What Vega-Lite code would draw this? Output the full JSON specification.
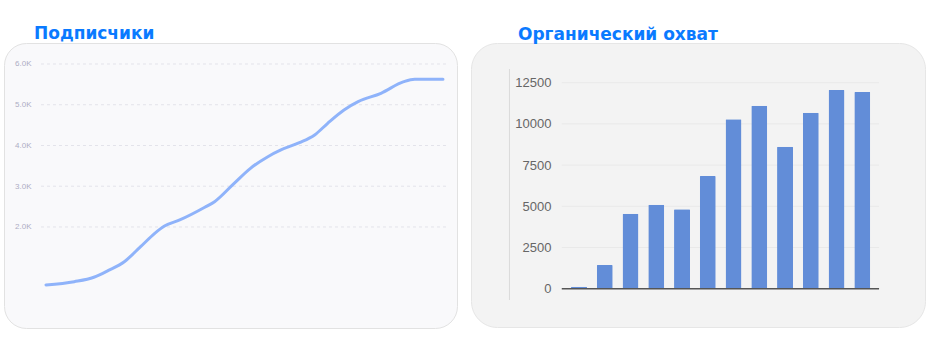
{
  "$schema": "https://vega.github.io/schema/vega-lite/v6.json",
  "background": "white",
  "padding": {"left": 3, "top": 24, "right": 0, "bottom": 0},
  "spacing": 12,
  "config": {"view": {"stroke": null}},
  "hconcat": [
    {
      "width": 453,
      "height": 285,
      "title": {"text": "Подписчики", "anchor": "start", "dx": 30, "offset": 0, "font": "DejaVu Sans", "fontSize": 17, "fontWeight": "bold", "color": "#0a7aff"},
      "view": {"fill": "#f9f9fb", "cornerRadius": 22, "stroke": "#e2e2e2"},
      "layer": [
        {
          "data": {"values": [{"v": 2000}, {"v": 3000}, {"v": 4000}, {"v": 5000}, {"v": 6000}]},
          "mark": {"type": "rule", "color": "#e3e3ea", "strokeDash": [3, 3], "strokeWidth": 1},
          "encoding": {
            "x": {"datum": -4.6, "type": "quantitative", "scale": {"domain": [-38.6, 377.9], "nice": false, "zero": false}, "axis": null},
            "x2": {"datum": 369.6},
            "y": {"field": "v", "type": "quantitative", "scale": {"domain": [-479, 6515], "nice": false, "zero": false},
              "axis": {"values": [2000, 3000, 4000, 5000, 6000], "labelExpr": "format(datum.value/1000,'.1f')+'K'", "grid": false, "domain": false, "ticks": false, "labelPadding": 0, "offset": -27, "labelFontSize": 8, "labelColor": "#adadc4", "labelFont": "Liberation Sans", "title": null}}
          }
        },
        {
          "data": {"values": [
            {"day": 0, "subs": 577}, {"day": 26, "subs": 658}, {"day": 44, "subs": 766}, {"day": 57, "subs": 928},
            {"day": 72, "subs": 1148}, {"day": 87, "subs": 1517}, {"day": 100, "subs": 1845}, {"day": 109, "subs": 2025},
            {"day": 123, "subs": 2172}, {"day": 146, "subs": 2483}, {"day": 155, "subs": 2621}, {"day": 173, "subs": 3072},
            {"day": 188, "subs": 3440}, {"day": 204, "subs": 3725}, {"day": 216, "subs": 3890}, {"day": 233, "subs": 4069},
            {"day": 247, "subs": 4258}, {"day": 259, "subs": 4545}, {"day": 274, "subs": 4871}, {"day": 287, "subs": 5075},
            {"day": 308, "subs": 5281}, {"day": 329, "subs": 5566}, {"day": 339, "subs": 5624}, {"day": 365, "subs": 5624}
          ]},
          "mark": {"type": "line", "interpolate": "monotone", "color": "#8fb3fa", "strokeWidth": 3, "strokeCap": "round"},
          "encoding": {
            "x": {"field": "day", "type": "quantitative", "axis": null},
            "y": {"field": "subs", "type": "quantitative"}
          }
        }
      ]
    },
    {
      "width": 454,
      "height": 284,
      "title": {"text": "Органический охват", "anchor": "start", "dx": 47, "offset": -1, "font": "DejaVu Sans", "fontSize": 17, "fontWeight": "bold", "color": "#0a7aff"},
      "view": {"fill": "#f3f3f3", "cornerRadius": 26, "stroke": "#e6e6e6"},
      "layer": [
        {
          "data": {"values": [{"v": 2500}, {"v": 5000}, {"v": 7500}, {"v": 10000}, {"v": 12500}]},
          "mark": {"type": "rule", "color": "#e9e9e9", "strokeWidth": 1},
          "encoding": {
            "x": {"datum": 0.33, "type": "quantitative", "scale": {"domain": [-3.0, 14.24], "nice": false, "zero": false}, "axis": null},
            "x2": {"datum": 12.65},
            "y": {"field": "v", "type": "quantitative", "scale": {"domain": [-2324, 14909], "nice": false, "zero": false},
              "axis": {"values": [0, 2500, 5000, 7500, 10000, 12500], "format": "d", "grid": false, "domain": false, "ticks": false, "labelPadding": 0, "offset": -80, "labelFontSize": 13, "labelColor": "#666666", "labelFont": "Liberation Sans", "title": null}}
          }
        },
        {
          "data": {"values": [{"x": -1.7, "y1": -686, "y2": 13331}]},
          "mark": {"type": "rule", "color": "#dadada", "strokeWidth": 1},
          "encoding": {
            "x": {"field": "x", "type": "quantitative", "axis": null},
            "y": {"field": "y1", "type": "quantitative"},
            "y2": {"field": "y2"}
          }
        },
        {
          "data": {"values": [
            {"m": 1, "reach": 120}, {"m": 2, "reach": 1440}, {"m": 3, "reach": 4550}, {"m": 4, "reach": 5100},
            {"m": 5, "reach": 4820}, {"m": 6, "reach": 6840}, {"m": 7, "reach": 10280}, {"m": 8, "reach": 11100},
            {"m": 9, "reach": 8620}, {"m": 10, "reach": 10680}, {"m": 11, "reach": 12060}, {"m": 12, "reach": 11940}
          ]},
          "mark": {"type": "bar", "color": "#628dd8", "size": 16, "cornerRadiusTopLeft": 1, "cornerRadiusTopRight": 1},
          "encoding": {
            "x": {"field": "m", "type": "quantitative", "axis": null},
            "y": {"field": "reach", "type": "quantitative"}
          }
        },
        {
          "data": {"values": [{"x1": 0.33, "x2": 12.65, "v": 0}]},
          "mark": {"type": "rule", "color": "#555555", "strokeWidth": 1.5},
          "encoding": {
            "x": {"field": "x1", "type": "quantitative", "axis": null},
            "x2": {"field": "x2"},
            "y": {"field": "v", "type": "quantitative"}
          }
        }
      ]
    }
  ]
}
